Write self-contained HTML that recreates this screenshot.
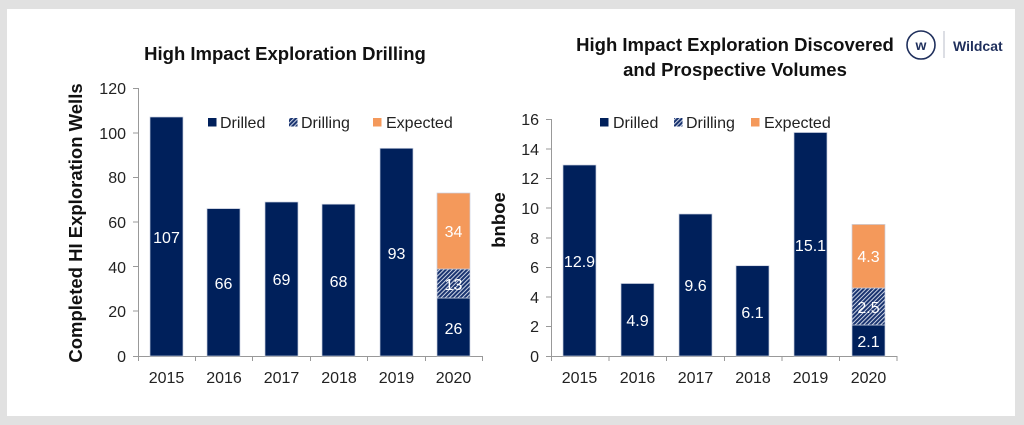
<!DOCTYPE html>
<html><head><style>
html,body{margin:0;padding:0;background:#e1e1e1;}
svg{display:block;}
text{font-family:"Liberation Sans",sans-serif;}
</style></head><body>
<svg width="1024" height="425" viewBox="0 0 1024 425" xmlns="http://www.w3.org/2000/svg">
<defs>
<pattern id="h" patternUnits="userSpaceOnUse" width="3" height="3" patternTransform="rotate(45)">
<rect width="3" height="3" fill="#1a3470"/><rect width="0.9" height="3" fill="#dfe5f0"/>
</pattern>
</defs>
<rect x="0" y="0" width="1024" height="425" fill="#e1e1e1"/>
<rect x="7" y="9" width="1008" height="407" fill="#fff"/>

<!-- LEFT CHART -->
<text x="285" y="60" font-size="18.5" font-weight="bold" text-anchor="middle" fill="#111">High Impact Exploration Drilling</text>
<text transform="translate(82,223) rotate(-90)" font-size="18.5" font-weight="bold" text-anchor="middle" fill="#111">Completed HI Exploration Wells</text>
<g font-size="16" fill="#222" text-anchor="end">
<text x="126" y="362">0</text><text x="126" y="317">20</text><text x="126" y="273">40</text><text x="126" y="228">60</text><text x="126" y="183">80</text><text x="126" y="139">100</text><text x="126" y="94">120</text>
</g>
<g stroke="#999" stroke-width="1">
<line x1="138.5" y1="88" x2="138.5" y2="356"/>
<line x1="133" y1="88.5" x2="138" y2="88.5"/><line x1="133" y1="133" x2="138" y2="133"/><line x1="133" y1="177.5" x2="138" y2="177.5"/><line x1="133" y1="222" x2="138" y2="222"/><line x1="133" y1="266.5" x2="138" y2="266.5"/><line x1="133" y1="311" x2="138" y2="311"/>
<line x1="133" y1="356.5" x2="482" y2="356.5"/>
<line x1="138.5" y1="356" x2="138.5" y2="361"/><line x1="195.5" y1="356" x2="195.5" y2="361"/><line x1="252.5" y1="356" x2="252.5" y2="361"/><line x1="310.5" y1="356" x2="310.5" y2="361"/><line x1="367.5" y1="356" x2="367.5" y2="361"/><line x1="425.5" y1="356" x2="425.5" y2="361"/><line x1="482.5" y1="356" x2="482.5" y2="361"/>
</g>
<g fill="#00205b" stroke="#c9d0e0" stroke-width="0.7">
<rect x="150" y="117" width="33" height="239"/>
<rect x="207" y="208.6" width="33" height="147.4"/>
<rect x="265" y="202" width="33" height="154"/>
<rect x="322" y="204.2" width="33" height="151.8"/>
<rect x="380" y="148.3" width="33" height="207.7"/>
<rect x="437" y="298" width="33" height="58"/>
<rect x="437" y="269" width="33" height="29" fill="url(#h)"/>
<rect x="437" y="193" width="33" height="76" fill="#f4995b"/>
</g>
<g font-size="16" fill="#fff" text-anchor="middle">
<text x="166.5" y="243">107</text><text x="223.5" y="289">66</text><text x="281.5" y="285">69</text><text x="338.5" y="287">68</text><text x="396.5" y="259">93</text>
<text x="453.5" y="237">34</text><text x="453.5" y="290">13</text><text x="453.5" y="334">26</text>
</g>
<g font-size="16" fill="#222" text-anchor="middle">
<text x="166.5" y="383">2015</text><text x="224" y="383">2016</text><text x="281.5" y="383">2017</text><text x="339" y="383">2018</text><text x="396.5" y="383">2019</text><text x="453.5" y="383">2020</text>
</g>
<rect x="208" y="118" width="8.5" height="8.5" fill="#00205b"/>
<rect x="289" y="118" width="8.5" height="8.5" fill="url(#h)"/>
<rect x="373" y="118" width="8.5" height="8.5" fill="#f4995b"/>
<g font-size="16" fill="#222">
<text x="220" y="128">Drilled</text><text x="301" y="128">Drilling</text><text x="386" y="128">Expected</text>
</g>

<!-- RIGHT CHART -->
<text x="735" y="51" font-size="18.5" font-weight="bold" text-anchor="middle" fill="#111">High Impact Exploration Discovered</text>
<text x="735" y="76" font-size="18.5" font-weight="bold" text-anchor="middle" fill="#111">and Prospective Volumes</text>
<text transform="translate(505,220) rotate(-90)" font-size="18.5" font-weight="bold" text-anchor="middle" fill="#111">bnboe</text>
<g font-size="16" fill="#222" text-anchor="end">
<text x="539" y="362">0</text><text x="539" y="332">2</text><text x="539" y="303">4</text><text x="539" y="273">6</text><text x="539" y="244">8</text><text x="539" y="214">10</text><text x="539" y="184">12</text><text x="539" y="155">14</text><text x="539" y="125">16</text>
</g>
<g stroke="#999" stroke-width="1">
<line x1="551.5" y1="119" x2="551.5" y2="356"/>
<line x1="546" y1="119.5" x2="551" y2="119.5"/><line x1="546" y1="149" x2="551" y2="149"/><line x1="546" y1="178.5" x2="551" y2="178.5"/><line x1="546" y1="208" x2="551" y2="208"/><line x1="546" y1="238" x2="551" y2="238"/><line x1="546" y1="267.5" x2="551" y2="267.5"/><line x1="546" y1="297" x2="551" y2="297"/><line x1="546" y1="326.5" x2="551" y2="326.5"/>
<line x1="546" y1="356.5" x2="897" y2="356.5"/>
<line x1="551.5" y1="356" x2="551.5" y2="361"/><line x1="609" y1="356" x2="609" y2="361"/><line x1="666.5" y1="356" x2="666.5" y2="361"/><line x1="724.5" y1="356" x2="724.5" y2="361"/><line x1="782" y1="356" x2="782" y2="361"/><line x1="839.5" y1="356" x2="839.5" y2="361"/><line x1="897" y1="356" x2="897" y2="361"/>
</g>
<g fill="#00205b" stroke="#c9d0e0" stroke-width="0.7">
<rect x="563" y="165" width="33" height="191"/>
<rect x="621" y="283.5" width="33" height="72.5"/>
<rect x="679" y="214" width="33" height="142"/>
<rect x="736" y="265.7" width="33" height="90.3"/>
<rect x="794" y="132.5" width="33" height="223.5"/>
<rect x="852" y="325" width="33" height="31"/>
<rect x="852" y="288" width="33" height="37" fill="url(#h)"/>
<rect x="852" y="224.4" width="33" height="63.6" fill="#f4995b"/>
</g>
<g font-size="16" fill="#fff" text-anchor="middle">
<text x="579.5" y="267">12.9</text><text x="637.5" y="326">4.9</text><text x="695.5" y="291">9.6</text><text x="752.5" y="318">6.1</text><text x="810.5" y="251">15.1</text>
<text x="868.5" y="262">4.3</text><text x="868.5" y="313">2.5</text><text x="868.5" y="347">2.1</text>
</g>
<g font-size="16" fill="#222" text-anchor="middle">
<text x="579.5" y="383">2015</text><text x="637.5" y="383">2016</text><text x="695.5" y="383">2017</text><text x="753" y="383">2018</text><text x="810.5" y="383">2019</text><text x="868.5" y="383">2020</text>
</g>
<rect x="600" y="118" width="8.5" height="8.5" fill="#00205b"/>
<rect x="674" y="118" width="8.5" height="8.5" fill="url(#h)"/>
<rect x="751" y="118" width="8.5" height="8.5" fill="#f4995b"/>
<g font-size="16" fill="#222">
<text x="613" y="128">Drilled</text><text x="686" y="128">Drilling</text><text x="764" y="128">Expected</text>
</g>

<!-- LOGO -->
<circle cx="921" cy="45" r="14" fill="none" stroke="#1f2f5c" stroke-width="1.6"/>
<text x="921" y="50" font-family="Liberation Serif,serif" font-size="14" font-weight="bold" text-anchor="middle" fill="#1f2f5c">w</text>
<line x1="944" y1="31" x2="944" y2="58" stroke="#b8bcc8" stroke-width="1"/>
<text x="953" y="51" font-size="14" font-weight="bold" fill="#1f2f5c">Wildcat</text>
</svg>
</body></html>
